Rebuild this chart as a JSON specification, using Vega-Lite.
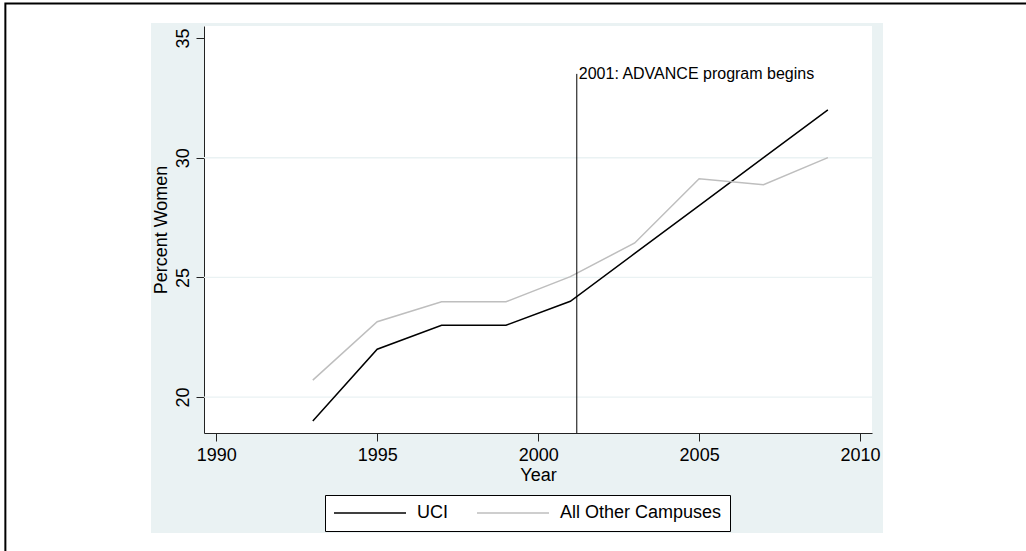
{
  "$schema": "https://vega.github.io/schema/vega-lite/v6.json",
  "width": 668,
  "height": 407,
  "autosize": "none",
  "padding": {"left": 204, "top": 26, "right": 154, "bottom": 118},
  "background": "#EAF2F3",
  "config": {
    "view": {"stroke": null, "fill": "white"},
    "font": "Liberation Sans",
    "axis": {
      "labelFont": "Liberation Sans",
      "titleFont": "Liberation Sans",
      "labelFontSize": 18,
      "titleFontSize": 18,
      "titleFontWeight": "normal",
      "labelColor": "black",
      "titleColor": "black",
      "domainColor": "#222222",
      "tickColor": "#222222",
      "domainWidth": 1,
      "tickWidth": 1,
      "labelFlush": false,
      "labelOverlap": false,
      "grid": false
    },
    "legend": {
      "labelFont": "Liberation Sans"
    }
  },
  "datasets": {
    "series": [
      {"year": 1993, "pct": 19.0, "series": "UCI"},
      {"year": 1995, "pct": 22.0, "series": "UCI"},
      {"year": 1997, "pct": 23.0, "series": "UCI"},
      {"year": 1999, "pct": 23.0, "series": "UCI"},
      {"year": 2001, "pct": 24.0, "series": "UCI"},
      {"year": 2003, "pct": 26.0, "series": "UCI"},
      {"year": 2005, "pct": 28.0, "series": "UCI"},
      {"year": 2007, "pct": 30.0, "series": "UCI"},
      {"year": 2009, "pct": 32.0, "series": "UCI"},
      {"year": 1993, "pct": 20.71, "series": "All Other Campuses"},
      {"year": 1995, "pct": 23.15, "series": "All Other Campuses"},
      {"year": 1997, "pct": 23.98, "series": "All Other Campuses"},
      {"year": 1999, "pct": 23.98, "series": "All Other Campuses"},
      {"year": 2001, "pct": 25.03, "series": "All Other Campuses"},
      {"year": 2003, "pct": 26.44, "series": "All Other Campuses"},
      {"year": 2005, "pct": 29.12, "series": "All Other Campuses"},
      {"year": 2007, "pct": 28.87, "series": "All Other Campuses"},
      {"year": 2009, "pct": 30.0, "series": "All Other Campuses"}
    ],
    "grid": [{"level": 20}, {"level": 25}, {"level": 30}],
    "note": [{"year": 2001.2, "top": 33.5, "label": "2001: ADVANCE program begins"}],
    "blank": [{}]
  },
  "layer": [
    {
      "data": {"name": "grid"},
      "mark": {"type": "rule", "stroke": "#EAF2F3", "strokeWidth": 1.4},
      "encoding": {
        "y": {"field": "level", "type": "quantitative", "title": "Percent Women", "scale": {"domain": [18.5, 35.5], "nice": false, "zero": false}}
      }
    },
    {
      "data": {"name": "series"},
      "mark": {"type": "line", "strokeWidth": 1.5},
      "encoding": {
        "x": {
          "field": "year", "type": "quantitative", "title": "Year",
          "scale": {"domain": [1989.62, 2010.37], "nice": false, "zero": false},
          "axis": {"values": [1990, 1995, 2000, 2005, 2010], "format": "d", "title": "Year", "tickSize": 8, "labelPadding": 5, "titlePadding": 2}
        },
        "y": {
          "field": "pct", "type": "quantitative", "title": "Percent Women",
          "scale": {"domain": [18.5, 35.5], "nice": false, "zero": false},
          "axis": {"values": [20, 25, 30, 35], "title": "Percent Women", "labelAngle": -90, "labelAlign": "center", "labelBaseline": "bottom", "tickSize": 8, "labelPadding": 4, "titlePadding": 4}
        },
        "stroke": {
          "field": "series", "type": "nominal",
          "scale": {"domain": ["UCI", "All Other Campuses"], "range": ["#000000", "#bebebe"]},
          "legend": {
            "orient": "none", "legendX": 121, "legendY": 469,
            "direction": "horizontal", "title": null,
            "symbolType": "stroke", "symbolSize": 5184, "symbolStrokeWidth": 1.5,
            "labelFontSize": 18, "labelColor": "black", "labelOffset": 10, "labelLimit": 400,
            "labelExpr": "datum.label == 'UCI' ? datum.label : datum.label + '   '",
            "columnPadding": 28, "padding": 8, "clipHeight": 20,
            "fillColor": "white", "strokeColor": "black"
          }
        }
      }
    },
    {
      "data": {"name": "note"},
      "mark": {"type": "rule", "stroke": "black", "strokeWidth": 1},
      "encoding": {
        "x": {"field": "year", "type": "quantitative", "title": "Year", "scale": {"domain": [1989.62, 2010.37], "nice": false, "zero": false}},
        "y": {"field": "top", "type": "quantitative", "title": "Percent Women", "scale": {"domain": [18.5, 35.5], "nice": false, "zero": false}},
        "y2": {"datum": 18.5}
      }
    },
    {
      "data": {"name": "note"},
      "mark": {"type": "text", "align": "left", "baseline": "middle", "dx": 2, "fontSize": 16, "font": "Liberation Sans", "color": "black"},
      "encoding": {
        "x": {"field": "year", "type": "quantitative", "title": "Year", "scale": {"domain": [1989.62, 2010.37], "nice": false, "zero": false}},
        "y": {"field": "top", "type": "quantitative", "title": "Percent Women", "scale": {"domain": [18.5, 35.5], "nice": false, "zero": false}},
        "text": {"field": "label"}
      }
    },
    {
      "data": {"name": "blank"},
      "mark": {"type": "rect", "fill": "white", "clip": false},
      "encoding": {
        "x": {"datum": 1982.5, "type": "quantitative", "title": "Year", "scale": {"domain": [1989.62, 2010.37], "nice": false, "zero": false}},
        "x2": {"datum": 1987.974},
        "y": {"datum": 38, "type": "quantitative", "title": "Percent Women", "scale": {"domain": [18.5, 35.5], "nice": false, "zero": false}},
        "y2": {"datum": 11}
      }
    },
    {
      "data": {"name": "blank"},
      "mark": {"type": "rect", "fill": "white", "clip": false},
      "encoding": {
        "x": {"datum": 2010.712, "type": "quantitative", "title": "Year", "scale": {"domain": [1989.62, 2010.37], "nice": false, "zero": false}},
        "x2": {"datum": 2017.5},
        "y": {"datum": 38, "type": "quantitative", "title": "Percent Women", "scale": {"domain": [18.5, 35.5], "nice": false, "zero": false}},
        "y2": {"datum": 11}
      }
    },
    {
      "data": {"name": "blank"},
      "mark": {"type": "rect", "fill": "white", "clip": false},
      "encoding": {
        "x": {"datum": 1982.5, "type": "quantitative", "title": "Year", "scale": {"domain": [1989.62, 2010.37], "nice": false, "zero": false}},
        "x2": {"datum": 2017.5},
        "y": {"datum": 38, "type": "quantitative", "title": "Percent Women", "scale": {"domain": [18.5, 35.5], "nice": false, "zero": false}},
        "y2": {"datum": 35.625}
      }
    },
    {
      "data": {"name": "blank"},
      "mark": {"type": "rect", "fill": "white", "clip": false},
      "encoding": {
        "x": {"datum": 1982.5, "type": "quantitative", "title": "Year", "scale": {"domain": [1989.62, 2010.37], "nice": false, "zero": false}},
        "x2": {"datum": 2017.5},
        "y": {"datum": 14.323, "type": "quantitative", "title": "Percent Women", "scale": {"domain": [18.5, 35.5], "nice": false, "zero": false}},
        "y2": {"datum": 11}
      }
    },
    {
      "data": {"name": "blank"},
      "mark": {"type": "rect", "filled": false, "stroke": "black", "strokeWidth": 2, "clip": false},
      "encoding": {
        "x": {"datum": 1983.45, "type": "quantitative", "title": "Year", "scale": {"domain": [1989.62, 2010.37], "nice": false, "zero": false}},
        "x2": {"datum": 2016.5},
        "y": {"datum": 36.44, "type": "quantitative", "title": "Percent Women", "scale": {"domain": [18.5, 35.5], "nice": false, "zero": false}},
        "y2": {"datum": 12.5}
      }
    }
  ]
}
